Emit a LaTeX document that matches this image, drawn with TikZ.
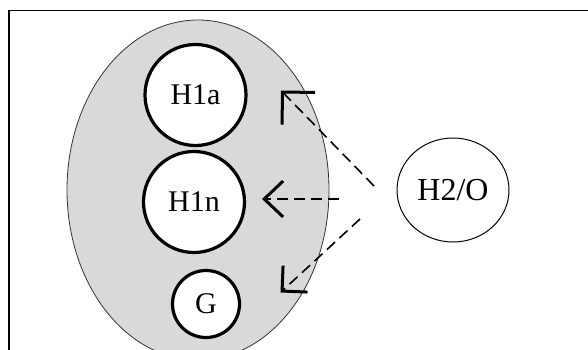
\documentclass[tikz,border=0pt]{standalone}
\usepackage{fontspec}
\setmainfont{Liberation Serif}
\usetikzlibrary{arrows.meta,shapes.geometric}
\definecolor{cellgray}{HTML}{D9D9D9}
\tikzset{
  inner/.style={circle, draw=black, line width=3.2pt, fill=white, inner sep=0pt},
  lbl/.style={font=\fontsize{30}{36}\selectfont},
  outerell/.style={ellipse, draw=black!80, line width=0.8pt, fill=cellgray, inner sep=0pt},
  dashedcon/.style={line width=1.6pt, dash pattern=on 11pt off 6pt},
}
\begin{document}
\begin{tikzpicture}[x=1pt,y=-1pt]
\useasboundingbox (0,0) rectangle (588,350);
\clip (0,0) rectangle (588,350);
\fill[white] (0,0) rectangle (588,350);
% frame
\draw[line width=1.6pt] (590,10.5) -- (9,10.5) -- (9,352);
% big gray ellipse
\node[outerell, minimum width=262pt, minimum height=340pt] (cell) at (198,190) {};
% inner circles
\node[inner, lbl, minimum size=101pt] (h1a) at (195.5,95) {H1a};
\node[inner, lbl, minimum size=101pt] (h1n) at (194,202) {H1n};
\node[inner, lbl, minimum size=67pt] (g) at (206,304) {G};
% H2/O
\node[ellipse, draw=black, line width=1pt, fill=white, inner sep=0pt,
      minimum width=112pt, minimum height=104pt, lbl, font=\fontsize{32}{36}\selectfont] (h2o) at (453,190) {H2/O};
% arrow endpoints
\coordinate (ta) at (374,186);
\coordinate (tipa) at (281,90.5);
\coordinate (tn) at (339,199);
\coordinate (tipn) at (262,199);
\coordinate (tg) at (360,219);
\coordinate (tipg) at (280.5,292.5);
\draw[dashedcon, -{Straight Barb[length=23pt, width=46pt, line width=3pt]}] (ta) -- (tipa);
\draw[dashedcon, line width=2.6pt, -{Straight Barb[length=19pt, width=36pt, line width=3pt]}] (tn) -- (tipn);
\draw[dashedcon, -{Straight Barb[length=18pt, width=36pt, line width=3pt]}] (tg) -- (tipg);
\end{tikzpicture}
\end{document}
